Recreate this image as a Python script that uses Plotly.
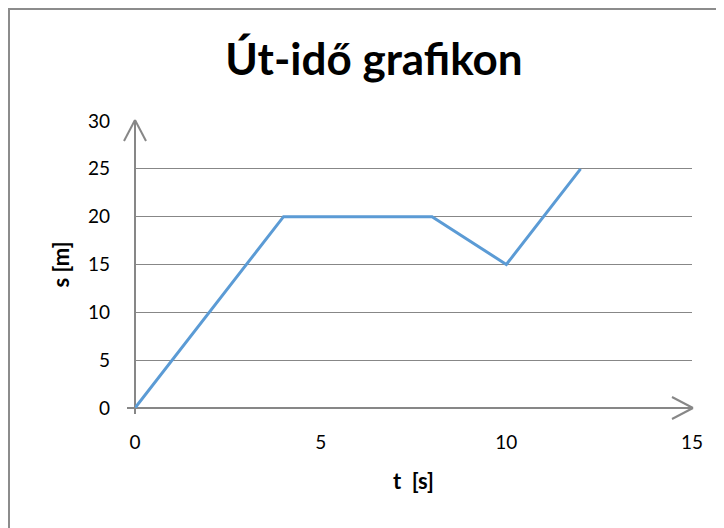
import plotly.graph_objects as go

t_values = [0, 4, 8, 10, 12]
s_values = [0, 20, 20, 15, 25]
x_ticks = [0, 5, 10, 15]
y_ticks = [0, 5, 10, 15, 20, 25, 30]
title_text = "Út-idő grafikon"
x_title = "t\u00a0 [s]"
y_title = "s [m]"

# page has an 8px body margin; figure sized to fit the window
W, H = 716, 520
L, R, T, B = 127, 32, 113, 120
pw, ph = W - L - R, H - T - B

def px2paper_x(p):
    return (p - L) / pw

def py2paper_y(p):
    return (H - B - p) / ph

FONT = "Lato, 'Open Sans', sans-serif"
AX = "#878787"

fig = go.Figure()
fig.add_trace(go.Scatter(x=t_values, y=s_values, mode="lines",
                         line=dict(color="#5B9BD5", width=3), hoverinfo="skip"))

fig.update_layout(
    width=W, height=H, margin=dict(l=L, r=R, t=T, b=B),
    paper_bgcolor="white", plot_bgcolor="white", showlegend=False,
    title=dict(text="<b>" + title_text + "</b>", x=366 / W,
               xanchor="center", y=1 - 52 / H, yanchor="middle",
               font=dict(family=FONT, size=44, color="black")),
    xaxis=dict(range=[0, 15], tickvals=x_ticks, showgrid=False, zeroline=False,
               showline=False, ticks="", ticklabelstandoff=21,
               tickfont=dict(family=FONT, size=19, color="black"),
               title=dict(text="<b>" + x_title + "</b>", standoff=21,
                          font=dict(family=FONT, size=22, color="black"))),
    yaxis=dict(range=[0, 30], tickvals=y_ticks, showgrid=True, gridcolor=AX,
               gridwidth=1, zeroline=False, showline=False, ticks="",
               ticklabelstandoff=24,
               tickfont=dict(family=FONT, size=19, color="black"),
               title=dict(text="<b>" + y_title + "</b>", standoff=12,
                          font=dict(family=FONT, size=22, color="black"))),
)

shapes = []
# outer chart border (left and top edges visible)
shapes.append(dict(type="rect", xref="paper", yref="paper",
                   x0=px2paper_x(1), x1=px2paper_x(W + 20),
                   y0=py2paper_y(H + 20), y1=py2paper_y(1),
                   line=dict(color="#8C8C8C", width=2), layer="below"))

def pline(xa, ya, x0, y0, x1, y1):
    shapes.append(dict(type="line", xref="paper", yref="paper", xsizemode="pixel",
                       ysizemode="pixel", xanchor=xa, yanchor=ya,
                       x0=x0, y0=y0, x1=x1, y1=y1, layer="below",
                       line=dict(color=AX, width=2)))

# axis lines along the plot area edges (x: 0..15, y: 0..30 span the area)
shapes.append(dict(type="line", xref="paper", yref="paper", x0=0, x1=1, y0=0, y1=0,
                   layer="below", line=dict(color=AX, width=2)))
shapes.append(dict(type="line", xref="paper", yref="paper", x0=0, x1=0, y0=0, y1=1,
                   layer="below", line=dict(color=AX, width=2)))
# small extensions past the origin
pline(0, 0, -8, 0, 0, 0)
pline(0, 0, 0, -6, 0, 0)
# open arrow heads
pline(1, 0, -20, 11, 1, 0)
pline(1, 0, -20, -11, 1, 0)
pline(0, 1, -11, -20, 0, 1)
pline(0, 1, 11, -20, 0, 1)
fig.update_layout(shapes=shapes)

fig.write_html("out.html")
